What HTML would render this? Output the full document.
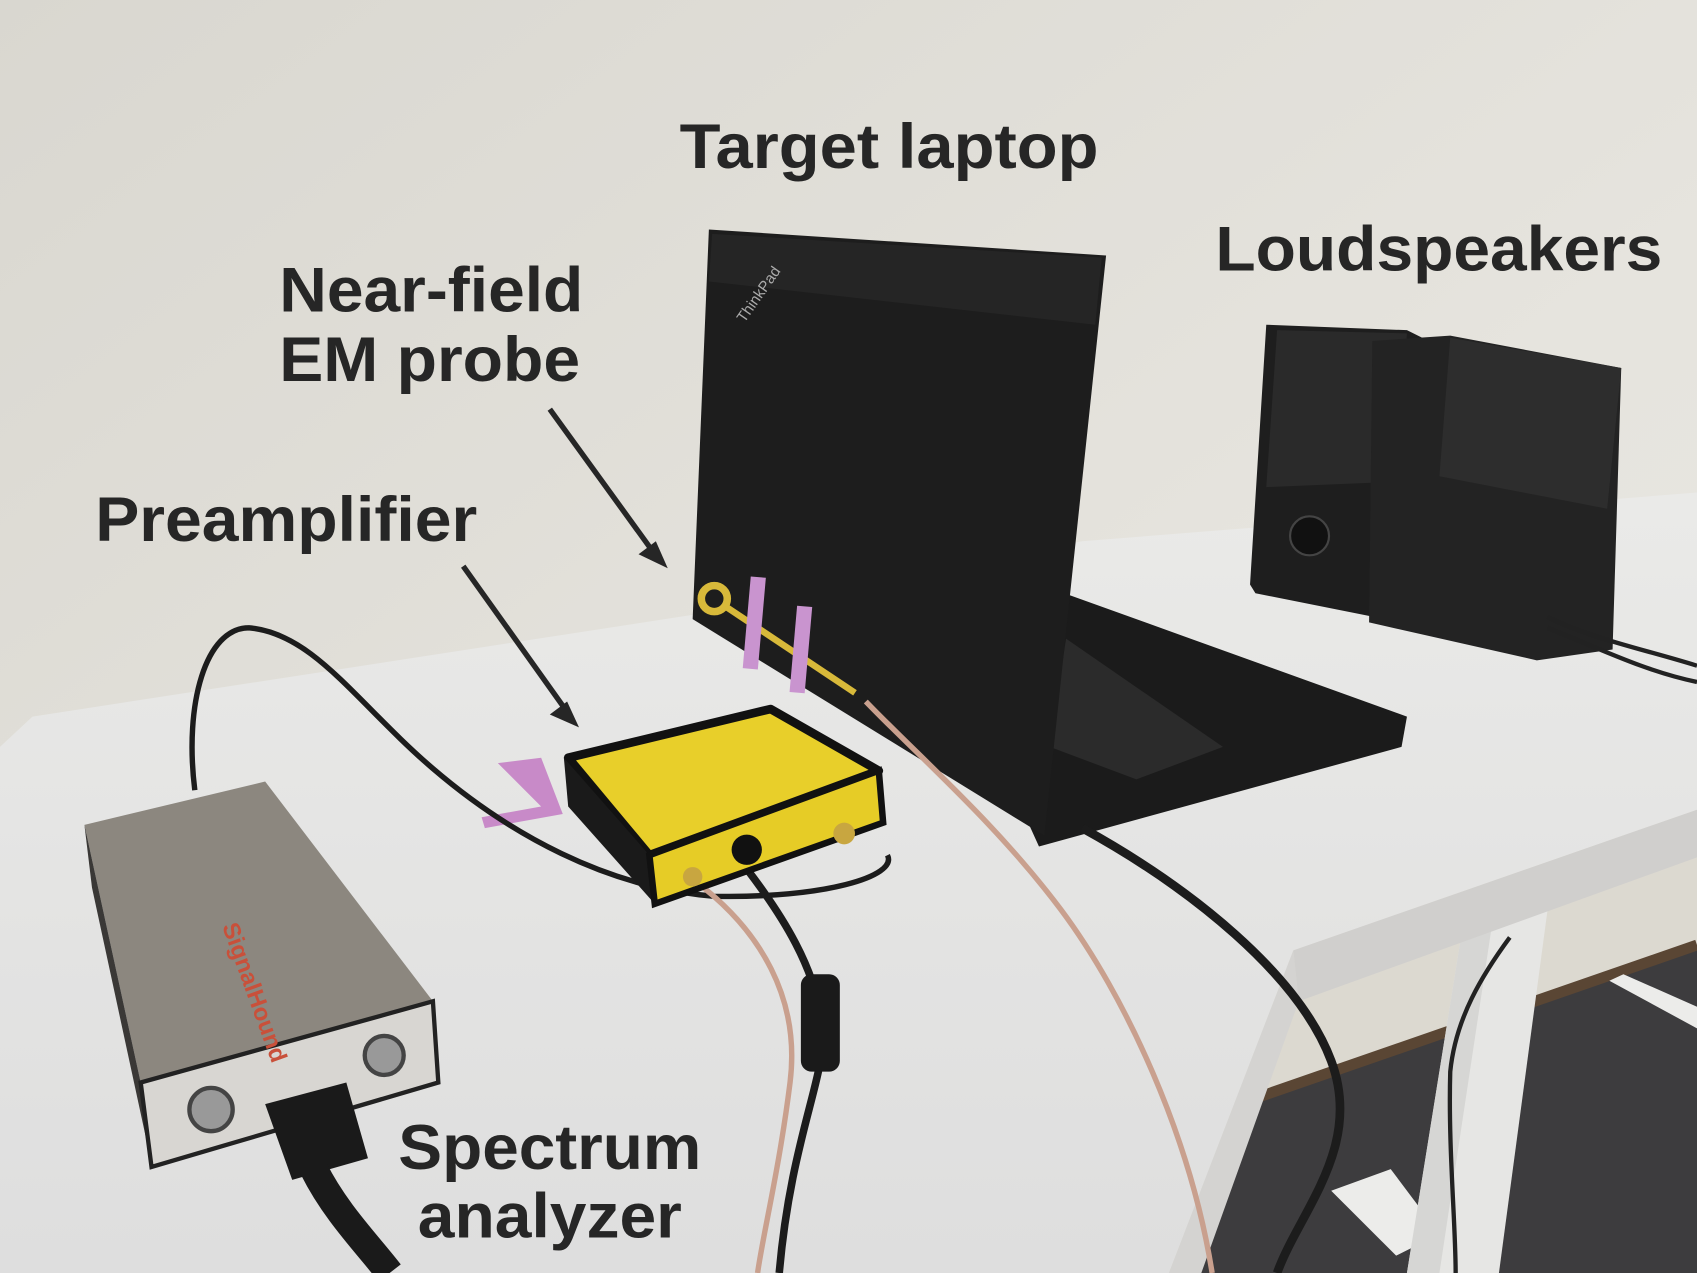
<!DOCTYPE html>
<html><head><meta charset="utf-8"><style>
html,body{margin:0;padding:0;width:1697px;height:1273px;overflow:hidden;background:#e2e0da}
svg{display:block}
text{font-family:"Liberation Sans",Arial,sans-serif;font-weight:bold;fill:#262626}
</style></head><body>
<svg width="1697" height="1273" viewBox="0 0 1568 1176" preserveAspectRatio="none" xmlns="http://www.w3.org/2000/svg">
<defs>
<linearGradient id="wall" x1="0" y1="0" x2="1" y2="1">
<stop offset="0" stop-color="#d9d7d0"/><stop offset="0.6" stop-color="#e6e4de"/><stop offset="1" stop-color="#e9e8e3"/></linearGradient>
<linearGradient id="tbl" x1="0" y1="0" x2="0" y2="1">
<stop offset="0" stop-color="#eaeae8"/><stop offset="1" stop-color="#dedede"/></linearGradient>
</defs>
<rect width="1568" height="1176" fill="url(#wall)"/>
<!-- under table area -->
<polygon points="1195,878 1568,748 1568,1176 1080,1176" fill="#dcd9d0"/>
<!-- carpet -->
<polygon points="1150,1020 1568,875 1568,1176 1100,1176" fill="#3d3c3e"/>
<line x1="1150" y1="1018" x2="1568" y2="873" stroke="#5a4634" stroke-width="10"/>
<!-- feet -->
<polygon points="1230,1100 1285,1080 1330,1140 1290,1160" fill="#ececea"/>
<polygon points="1487,906 1500,900 1568,930 1568,950" fill="#ececea"/>
<!-- leg -->
<polygon points="1352,853 1432,825 1385,1176 1300,1176" fill="#e6e6e4"/>
<polygon points="1352,853 1380,845 1330,1176 1300,1176" fill="#d6d6d4"/>
<!-- table top -->
<polygon points="0,690 30,662 640,568 1000,500 1568,455 1568,748 1195,878 1080,1176 0,1176" fill="url(#tbl)"/>
<!-- table thickness -->
<polygon points="1195,878 1568,748 1568,792 1200,925" fill="#d0cfcd"/>
<polygon points="1195,878 1200,925 1110,1176 1080,1176" fill="#d4d3d1"/>
<!-- speakers -->
<polygon points="1170,300 1300,305 1330,320 1310,570 1270,570 1160,548 1155,540" fill="#1e1e1e"/>
<polygon points="1180,305 1300,308 1290,445 1170,450" fill="#2a2a2a"/>
<circle cx="1210" cy="495" r="18" fill="#111" stroke="#444" stroke-width="2"/>
<polygon points="1268,315 1340,310 1498,340 1490,600 1420,610 1265,575" fill="#232323"/>
<polygon points="1340,312 1498,340 1485,470 1330,440" fill="#2d2d2d"/>
<path d="M1430,570 C1470,590 1520,600 1568,615" stroke="#222" stroke-width="4" fill="none"/>
<path d="M1430,580 C1480,600 1520,620 1568,630" stroke="#222" stroke-width="4" fill="none"/>
<!-- laptop base -->
<polygon points="975,545 1300,662 1295,690 960,782 950,760" fill="#1b1b1b"/>
<polygon points="985,590 1130,690 1050,720 970,690" fill="#2b2b2b"/>
<!-- laptop lid -->
<polygon points="655,212 1022,236 965,772 640,572" fill="#1d1d1d"/>
<polygon points="658,216 1018,238 1012,300 655,260" fill="#252525"/>
<text x="665" y="295" transform="rotate(-55 680 275)" style="font-size:14px;fill:#aaa;font-weight:normal">ThinkPad</text>
<!-- probe -->
<circle cx="660" cy="553" r="12" fill="none" stroke="#d8b93a" stroke-width="7"/>
<line x1="670" y1="560" x2="790" y2="640" stroke="#d8b93a" stroke-width="6"/>
<rect x="690" y="533" width="14" height="85" fill="#c994cf" transform="rotate(5 697 575)"/>
<rect x="733" y="560" width="14" height="80" fill="#c994cf" transform="rotate(5 740 600)"/>
<polygon points="460,705 500,700 520,752 448,765 445,755 500,745" fill="#c88ac8"/>
<!-- cables -->
<path d="M180,730 C170,650 190,580 230,580 C290,585 330,650 400,710 C470,770 560,820 660,828 C760,830 830,810 820,790" stroke="#1c1c1c" stroke-width="5" fill="none"/>
<path d="M800,648 C850,700 920,760 980,840 C1040,920 1100,1050 1120,1176" stroke="#c9a08e" stroke-width="5" fill="none"/>
<path d="M680,790 C720,840 760,900 760,960 C760,1000 730,1060 720,1176" stroke="#1c1c1c" stroke-width="7" fill="none"/>
<path d="M650,820 C700,860 740,920 730,1000 C720,1080 705,1140 700,1176" stroke="#c9a08e" stroke-width="5" fill="none"/>
<path d="M1000,765 C1100,820 1200,900 1230,980 C1260,1060 1200,1120 1180,1176" stroke="#1c1c1c" stroke-width="8" fill="none"/>
<path d="M1395,866 C1370,900 1345,940 1340,990 C1338,1060 1345,1130 1345,1176" stroke="#222" stroke-width="4" fill="none"/>
<rect x="740" y="900" width="36" height="90" rx="10" fill="#1a1a1a"/>
<!-- preamp -->
<polygon points="525,700 712,655 812,712 600,790" fill="#e8cf2a" stroke="#111" stroke-width="8" stroke-linejoin="round"/>
<polygon points="521,700 600,790 605,835 525,745" fill="#1a1a1a"/>
<polygon points="600,790 812,712 816,760 605,835" fill="#e6cc26" stroke="#111" stroke-width="6"/>
<circle cx="690" cy="785" r="14" fill="#111"/>
<circle cx="780" cy="770" r="10" fill="#c8a640"/>
<circle cx="640" cy="810" r="9" fill="#c8a640"/>
<!-- spectrum analyzer -->
<polygon points="78,762 245,722 400,925 130,1000" fill="#8c877f"/>
<polygon points="78,762 130,1000 140,1075 85,820" fill="#3a3836"/>
<polygon points="130,1000 400,925 405,1000 140,1078" fill="#d8d6d2" stroke="#222" stroke-width="4"/>
<circle cx="195" cy="1025" r="20" fill="#999" stroke="#444" stroke-width="4"/>
<circle cx="355" cy="975" r="18" fill="#999" stroke="#444" stroke-width="4"/>
<polygon points="245,1020 320,1000 340,1070 270,1090" fill="#1a1a1a"/>
<path d="M290,1080 C310,1120 340,1150 360,1176" stroke="#1a1a1a" stroke-width="26" fill="none"/>
<text x="160" y="880" transform="rotate(70 200 900)" style="font-size:22px;fill:#c9503a">SignalHound</text>
<!-- arrows -->
<line x1="508" y1="378" x2="600" y2="505" stroke="#262626" stroke-width="5"/>
<polygon points="617,525 590,512 606,500" fill="#262626"/>
<line x1="428" y1="523" x2="520" y2="652" stroke="#262626" stroke-width="5"/>
<polygon points="535,672 508,660 524,648" fill="#262626"/>
<!-- labels -->
<text x="628" y="155" style="font-size:58px" textLength="387" lengthAdjust="spacingAndGlyphs">Target laptop</text>
<text x="1123" y="250" style="font-size:58px" textLength="413" lengthAdjust="spacingAndGlyphs">Loudspeakers</text>
<text x="258" y="288" style="font-size:58px" textLength="281" lengthAdjust="spacingAndGlyphs">Near-field</text>
<text x="258" y="352" style="font-size:58px" textLength="278" lengthAdjust="spacingAndGlyphs">EM probe</text>
<text x="88" y="500" style="font-size:58px" textLength="353" lengthAdjust="spacingAndGlyphs">Preamplifier</text>
<text x="368" y="1080" style="font-size:58px" textLength="280" lengthAdjust="spacingAndGlyphs">Spectrum</text>
<text x="386" y="1143" style="font-size:58px" textLength="244" lengthAdjust="spacingAndGlyphs">analyzer</text>
</svg>
</body></html>
